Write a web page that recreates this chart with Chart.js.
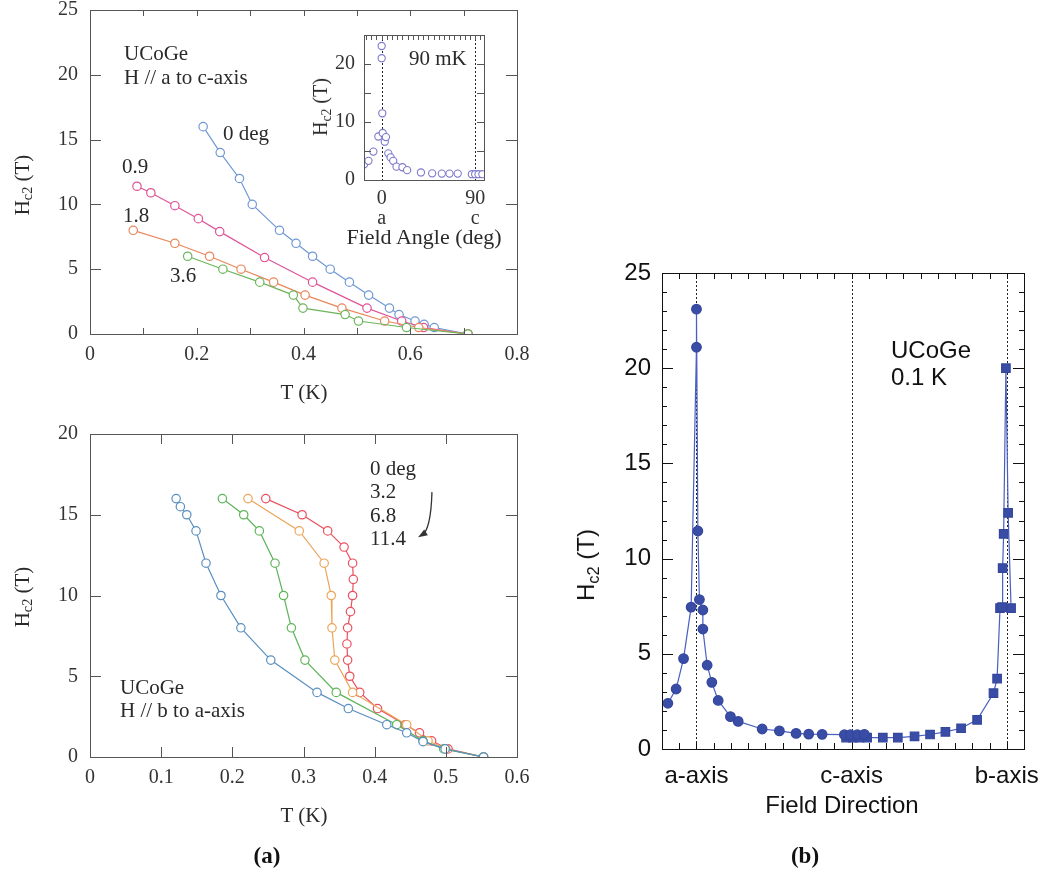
<!DOCTYPE html>
<html>
<head>
<meta charset="utf-8">
<script src="https://cdn.jsdelivr.net/npm/chart.js@4.4.1/dist/chart.umd.min.js"></script>
<style>
body{margin:0;background:#fff;width:1045px;height:875px;position:relative;overflow:hidden}
canvas{position:absolute}
.t{position:absolute;white-space:nowrap;line-height:1;color:#2a2a2a;font-family:"Liberation Serif",serif;font-size:21px;transform:translateY(-50%)}
.s{font-family:"Liberation Sans",Arial,sans-serif;font-size:24px;color:#111}
.c{transform:translate(-50%,-50%)}
.r{transform:translate(-50%,-50%) rotate(-90deg)}
.b{font-weight:bold;font-size:23px;color:#111}
sub{font-size:68%;vertical-align:-0.28em;line-height:0}
</style>
</head>
<body>
<canvas id="topChart" width="545" height="430" style="left:0;top:-10px"></canvas>
<canvas id="insetChart" width="185" height="230" style="left:319px;top:15px"></canvas>
<canvas id="bottomChart" width="545" height="400" style="left:0;top:414px"></canvas>
<canvas id="rightChart" width="492" height="560" style="left:560px;top:253px"></canvas>

<div class="t r" style="left:22px;top:185px">H<sub>c2</sub> (T)</div>
<div class="t c" style="left:304px;top:392px">T (K)</div>
<div class="t" style="left:124px;top:53px">UCoGe</div>
<div class="t" style="left:124px;top:77px">H // a to c-axis</div>
<div class="t" style="left:223px;top:133px">0 deg</div>
<div class="t" style="left:122px;top:166px">0.9</div>
<div class="t" style="left:123px;top:215px">1.8</div>
<div class="t" style="left:170px;top:275px">3.6</div>
<div class="t" style="left:409px;top:58px">90 mK</div>
<div class="t r" style="left:320px;top:107px;font-size:20px">H<sub>c2</sub> (T)</div>
<div class="t c" style="left:424px;top:237px;font-size:22px">Field Angle (deg)</div>

<div class="t r" style="left:22px;top:597px">H<sub>c2</sub> (T)</div>
<div class="t c" style="left:304px;top:815px">T (K)</div>
<div class="t" style="left:370px;top:468px">0 deg</div>
<div class="t" style="left:370px;top:491px">3.2</div>
<div class="t" style="left:370px;top:515px">6.8</div>
<div class="t" style="left:370px;top:538px">11.4</div>
<div class="t" style="left:120px;top:687px">UCoGe</div>
<div class="t" style="left:120px;top:710px">H // b to a-axis</div>

<div class="t s r" style="left:586px;top:565px">H<sub>c2</sub> (T)</div>
<div class="t s c" style="left:842px;top:805px">Field Direction</div>
<div class="t s" style="left:891px;top:350px">UCoGe</div>
<div class="t s" style="left:891px;top:377px">0.1 K</div>

<div class="t b c" style="left:267px;top:855px">(a)</div>
<div class="t b c" style="left:805px;top:855px">(b)</div>

<script>
// H // a to c-axis, field angle in deg
const tDeg0 = [0.212, 0.244, 0.28, 0.304, 0.355, 0.386, 0.417, 0.45, 0.486, 0.522, 0.561, 0.579, 0.609, 0.626, 0.645, 0.708]
const hDeg0 = [16, 14, 12, 10, 8, 7, 6, 5, 4, 3, 2, 1.5, 1, 0.75, 0.5, 0]
const tDeg09 = [0.088, 0.114, 0.159, 0.203, 0.243, 0.327, 0.417, 0.519, 0.584, 0.625, 0.708]
const hDeg09 = [11.4, 10.9, 9.9, 8.9, 7.9, 5.9, 4, 2, 1, 0.5, 0]
const tDeg18 = [0.081, 0.159, 0.224, 0.283, 0.344, 0.403, 0.472, 0.552, 0.616, 0.708]
const hDeg18 = [8, 7, 6, 5, 4, 3, 2, 1, 0.5, 0]
const tDeg36 = [0.183, 0.249, 0.318, 0.381, 0.399, 0.478, 0.503, 0.593, 0.708]
const hDeg36 = [6, 5, 4, 3, 2, 1.5, 1, 0.5, 0]

// inset, 90 mK
const insetAngle = [-16.9, -12.7, -8, -3.2, 0, 0, 0.6, 1, 3, 4.1, 6.4, 8.6, 11.1, 14.3, 20, 24.5, 37.8, 48.6, 57.9, 65.3, 73.2, 86.8, 90, 93.2, 96.9]
const insetHc2 = [2.7, 3.3, 4.9, 7.5, 23.1, 21, 11.5, 8.1, 6.6, 7.4, 4.6, 3.9, 3.3, 2.3, 2.2, 1.7, 1.3, 1.15, 1.1, 1.1, 1.1, 1, 1, 1, 1]

// H // b to a-axis
const tB0 = [0.247, 0.298, 0.334, 0.357, 0.369, 0.37, 0.369, 0.366, 0.362, 0.361, 0.362, 0.365, 0.379, 0.404, 0.443, 0.463, 0.48, 0.503, 0.553]
const hB0 = [16, 15, 14, 13, 12, 11, 10, 9, 8, 7, 6, 5, 4, 3, 2, 1.5, 1, 0.5, 0]
const tB32 = [0.222, 0.294, 0.329, 0.339, 0.34, 0.344, 0.369, 0.445, 0.475, 0.5, 0.553]
const hB32 = [16, 14, 12, 10, 8, 6, 4, 2, 1, 0.5, 0]
const tB68 = [0.186, 0.216, 0.238, 0.26, 0.272, 0.283, 0.302, 0.346, 0.431, 0.468, 0.497, 0.553]
const hB68 = [16, 15, 14, 12, 10, 8, 6, 4, 2, 1, 0.5, 0]
const tB114 = [0.121, 0.127, 0.136, 0.149, 0.163, 0.184, 0.212, 0.254, 0.319, 0.363, 0.417, 0.445, 0.468, 0.499, 0.553]
const hB114 = [16, 15.5, 15, 14, 12, 10, 8, 6, 4, 3, 2, 1.5, 0.95, 0.5, 0]

// (b) 0.1 K, a -> c (circles), c -> b (squares); a = 0, c = 90, b = 180
const dirAC = [-16.6, -11.8, -7.5, -3.1, 0, 0, 0.8, 1.7, 3.7, 3.7, 6.2, 8.9, 12.6, 19.7, 24.2, 38.1, 48.1, 57.8, 65.1, 72.9, 85.8, 89.3, 93.3, 97.4]
const hcAC = [2.4, 3.15, 4.75, 7.45, 21.1, 23.1, 11.45, 7.85, 7.3, 6.3, 4.4, 3.5, 2.55, 1.7, 1.45, 1.05, 0.95, 0.82, 0.78, 0.77, 0.75, 0.75, 0.75, 0.77]
const dirCB = [86.8, 90.7, 94.6, 99, 108.1, 116.8, 126.5, 135.5, 144.4, 153.5, 162.8, 172.3, 174.4, 176.1, 177.3, 177.6, 178.2, 179.5, 180.8, 182.5]
const hcCB = [0.6, 0.6, 0.6, 0.6, 0.6, 0.6, 0.66, 0.76, 0.9, 1.09, 1.53, 2.93, 3.7, 7.4, 7.45, 9.5, 11.3, 20, 12.4, 7.4]
const dirTicks = [0, 90, 180]
const dirLabels = ['a-axis', 'c-axis', 'b-axis']

const serif = 'Liberation Serif'
const sans = 'Liberation Sans'

// frame with inward ticks on all four sides, plus dotted guide lines
const boxTicks = {
    id: 'boxTicks',
    beforeDatasetsDraw(chart, args, opts) {
        if (!opts.guides) return
        const {ctx, chartArea: a, scales: {x}} = chart
        ctx.save()
        ctx.strokeStyle = '#222'
        ctx.lineWidth = 1
        ctx.setLineDash([2, 2])
        opts.guides.forEach(v => {
            const px = Math.round(x.getPixelForValue(v)) + 0.5
            ctx.beginPath(); ctx.moveTo(px, a.top); ctx.lineTo(px, a.bottom); ctx.stroke()
        })
        ctx.restore()
    },
    afterDraw(chart, args, opts) {
        const {ctx, chartArea: a, scales: {x, y}} = chart
        const seg = (x1, y1, x2, y2) => { ctx.beginPath(); ctx.moveTo(x1, y1); ctx.lineTo(x2, y2); ctx.stroke() }
        const each = (t, fn) => {
            for (let i = 0; ; i++) {
                const v = t.from + i * t.step
                if (v > t.to + 1e-9) break
                fn(v)
            }
        }
        ctx.save()
        ctx.strokeStyle = opts.color
        ctx.lineWidth = 1
        ctx.strokeRect(a.left + 0.5, a.top + 0.5, a.width, a.height)
        ;(opts.xTicks || []).forEach(t => each(t, v => {
            const px = Math.round(x.getPixelForValue(v)) + 0.5
            if (t.bottom !== false) seg(px, a.bottom, px, a.bottom - t.len)
            seg(px, a.top, px, a.top + t.len)
        }))
        ;(opts.yTicks || []).forEach(t => each(t, v => {
            const py = Math.round(y.getPixelForValue(v)) + 0.5
            seg(a.left, py, a.left + t.len, py)
            seg(a.right, py, a.right - t.len, py)
        }))
        ctx.restore()
    }
}

// curved arrow next to the angle list
const curvedArrow = {
    id: 'curvedArrow',
    afterDraw(chart) {
        const {ctx, scales: {x, y}} = chart
        const p = (t, h) => [x.getPixelForValue(t), y.getPixelForValue(h)]
        const [x0, y0] = p(0.4805, 16.4)
        const [cx, cy] = p(0.479, 14.1)
        const [x1, y1] = p(0.461, 13.6)
        ctx.save()
        ctx.strokeStyle = '#333'
        ctx.fillStyle = '#333'
        ctx.lineWidth = 1.3
        ctx.beginPath(); ctx.moveTo(x0, y0); ctx.quadraticCurveTo(cx, cy, x1 + 4, y1 - 2); ctx.stroke()
        const ang = Math.atan2(y1 - cy, x1 - cx)
        ctx.beginPath()
        ctx.moveTo(x1, y1)
        ctx.lineTo(x1 - 10 * Math.cos(ang - 0.35), y1 - 10 * Math.sin(ang - 0.35))
        ctx.lineTo(x1 - 10 * Math.cos(ang + 0.35), y1 - 10 * Math.sin(ang + 0.35))
        ctx.closePath(); ctx.fill()
        ctx.restore()
    }
}

function series(xs, ys, color, extra) {
    return Object.assign({
        data: xs.map((v, i) => ({x: v, y: ys[i]})),
        showLine: true,
        borderColor: color,
        borderWidth: 1.2,
        pointBackgroundColor: '#fff',
        pointBorderColor: color,
        pointBorderWidth: 1.2,
        pointRadius: 4.2
    }, extra)
}

function linAxis(min, max, step, font, pad, fit, extra) {
    return Object.assign({
        type: 'linear', min, max,
        grid: {display: false},
        border: {display: false},
        ticks: {stepSize: step, font, color: font.color, padding: pad},
        afterFit: fit
    }, extra)
}

const common = {
    responsive: false,
    animation: false,
    events: [],
    plugins: {legend: {display: false}, tooltip: {enabled: false}}
}

const tickFont = {family: serif, size: 20, lineHeight: 1}
const decimal = v => v === 0 ? '0' : v.toFixed(1)

// (a) top: H // a to c-axis
new Chart(document.getElementById('topChart'), {
    type: 'scatter',
    data: {datasets: [
        series(tDeg36, hDeg36, '#6cb65c'),
        series(tDeg18, hDeg18, '#e8875c'),
        series(tDeg09, hDeg09, '#df5597'),
        series(tDeg0, hDeg0, '#6f98d4')
    ]},
    options: Object.assign({}, common, {
        layout: {padding: {left: 0, top: 20, right: 28, bottom: 46}},
        scales: {
            x: linAxis(0, 0.8, 0.2, Object.assign({color: '#333'}, tickFont), 3, s => { s.height = 40 },
                {ticks: {stepSize: 0.2, font: tickFont, color: '#333', padding: 3, callback: decimal}}),
            y: linAxis(0, 25, 5, Object.assign({color: '#333'}, tickFont), 4, s => { s.width = 90 })
        },
        plugins: Object.assign({}, common.plugins, {
            boxTicks: {color: '#555', xTicks: [{from: 0, to: 0.8, step: 0.1, len: 6}], yTicks: [{from: 0, to: 25, step: 5, len: 11}]}
        })
    }),
    plugins: [boxTicks]
})

// inset: Hc2 vs field angle at 90 mK
new Chart(document.getElementById('insetChart'), {
    type: 'scatter',
    data: {datasets: [
        series(insetAngle, insetHc2, '#7b78cc', {showLine: false, pointRadius: 3.6, pointBorderWidth: 1.1})
    ]},
    options: Object.assign({}, common, {
        layout: {padding: {left: 0, top: 20, right: 20, bottom: 15}},
        scales: {
            x: {
                type: 'linear', min: -17, max: 98.5,
                grid: {display: false}, border: {display: false},
                afterBuildTicks: s => { s.ticks = [{value: 0}, {value: 90}] },
                ticks: {font: {family: serif, size: 20, lineHeight: 1.0}, color: '#333', padding: 1,
                    callback: v => v === 0 ? ['0', 'a'] : ['90', 'c']},
                afterFit: s => { s.height = 50 }
            },
            y: {
                type: 'linear', min: 0, max: 25,
                grid: {display: false}, border: {display: false},
                afterBuildTicks: s => { s.ticks = [{value: 0}, {value: 10}, {value: 20}] },
                ticks: {font: {family: serif, size: 20, lineHeight: 1}, color: '#333', padding: 1},
                afterFit: s => { s.width = 45 }
            }
        },
        plugins: Object.assign({}, common.plugins, {
            boxTicks: {color: '#555', guides: [0, 90],
                xTicks: [{from: -15, to: 95, step: 5, len: 5, bottom: false}],
                yTicks: [{from: 0, to: 25, step: 5, len: 7}]}
        })
    }),
    plugins: [boxTicks]
})

// (a) bottom: H // b to a-axis
new Chart(document.getElementById('bottomChart'), {
    type: 'scatter',
    data: {datasets: [
        series(tB114, hB114, '#5a8fc0'),
        series(tB68, hB68, '#5db45a'),
        series(tB32, hB32, '#eaa559'),
        series(tB0, hB0, '#e9505d')
    ]},
    options: Object.assign({}, common, {
        layout: {padding: {left: 0, top: 20, right: 28, bottom: 17}},
        scales: {
            x: linAxis(0, 0.6, 0.1, Object.assign({color: '#333'}, tickFont), 3, s => { s.height = 40 },
                {ticks: {stepSize: 0.1, font: tickFont, color: '#333', padding: 3, callback: decimal}}),
            y: linAxis(0, 20, 5, Object.assign({color: '#333'}, tickFont), 4, s => { s.width = 90 })
        },
        plugins: Object.assign({}, common.plugins, {
            boxTicks: {color: '#555', xTicks: [{from: 0, to: 0.6, step: 0.1, len: 10}], yTicks: [{from: 0, to: 20, step: 5, len: 11}]}
        })
    }),
    plugins: [boxTicks, curvedArrow]
})

// (b) Hc2 vs field direction at 0.1 K
const sansFont = {family: sans, size: 24, lineHeight: 1}
new Chart(document.getElementById('rightChart'), {
    type: 'scatter',
    data: {datasets: [
        series(dirAC, hcAC, '#4a5fc0', {pointBackgroundColor: '#3a4da6', pointBorderColor: '#34479c', pointRadius: 4.8}),
        series(dirCB, hcCB, '#4a5fc0', {pointStyle: 'rect', pointBackgroundColor: '#3a4da6', pointBorderColor: '#34479c', pointRadius: 6})
    ]},
    options: Object.assign({}, common, {
        layout: {padding: {left: 0, top: 20, right: 28, bottom: 24}},
        scales: {
            x: {
                type: 'linear', min: -20, max: 190,
                grid: {display: false}, border: {display: false},
                afterBuildTicks: s => { s.ticks = dirTicks.map(v => ({value: v})) },
                ticks: {font: sansFont, color: '#111', padding: 7, callback: v => dirLabels[dirTicks.indexOf(v)]},
                afterFit: s => { s.height = 40 }
            },
            y: linAxis(0, 25, 5, Object.assign({color: '#111'}, sansFont), 3, s => { s.width = 102 })
        },
        plugins: Object.assign({}, common.plugins, {
            boxTicks: {color: '#111', guides: dirTicks,
                xTicks: [{from: -10, to: 180, step: 10, len: 6}],
                yTicks: [{from: 0, to: 25, step: 1, len: 5}, {from: 0, to: 25, step: 5, len: 11}]}
        })
    }),
    plugins: [boxTicks]
})
</script>
</body>
</html>
